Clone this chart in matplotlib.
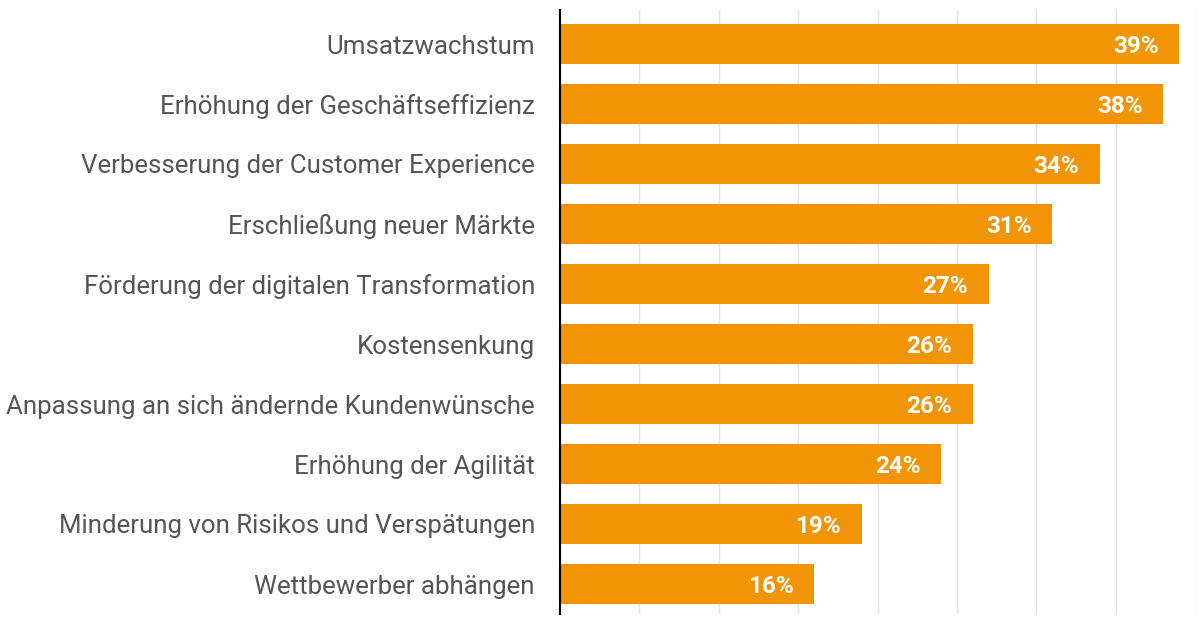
import matplotlib
matplotlib.use("Agg")
import matplotlib.pyplot as plt

# Daten
kategorien = [
    "Umsatzwachstum",
    "Erhöhung der Geschäftseffizienz",
    "Verbesserung der Customer Experience",
    "Erschließung neuer Märkte",
    "Förderung der digitalen Transformation",
    "Kostensenkung",
    "Anpassung an sich ändernde Kundenwünsche",
    "Erhöhung der Agilität",
    "Minderung von Risikos und Verspätungen",
    "Wettbewerber abhängen",
]
werte = [39, 38, 34, 31, 27, 26, 26, 24, 19, 16]
xticks = [0, 5, 10, 15, 20, 25, 30, 35, 40]

plt.rcParams['font.family'] = ['Roboto', 'DejaVu Sans']

fig = plt.figure(figsize=(12, 6.28), dpi=100)
ax = fig.add_axes([560/1200, 14/628, 635/1200, 604/628])

y = list(range(len(kategorien)))
ax.barh(y, werte, height=0.667, color="#F29505", zorder=2)

# Prozentwerte in den Balken
for yi, v in zip(y, werte):
    ax.text(v - 1.3, yi + 0.04, f"{v}%", ha="right", va="center",
            color="white", fontsize=17.5, fontweight="bold", zorder=3)

ax.set_xlim(0, 40)
ax.set_ylim(9.5, -0.5 - 4/60)
ax.set_xticks(xticks)
ax.set_xticklabels([])
ax.xaxis.grid(True, color="#e3e3e3", linewidth=1, zorder=0)
ax.tick_params(axis="x", length=0)
ax.tick_params(axis="y", length=0, pad=18)
ax.set_yticks(y)
ax.set_yticklabels(kategorien, fontsize=18.6, color="#555555")

for s in ["top", "right", "bottom"]:
    ax.spines[s].set_visible(False)
ax.spines["left"].set_color("black")
ax.spines["left"].set_linewidth(1.5)
ax.spines["left"].set_zorder(4)

fig.savefig("out.png", dpi=100)
